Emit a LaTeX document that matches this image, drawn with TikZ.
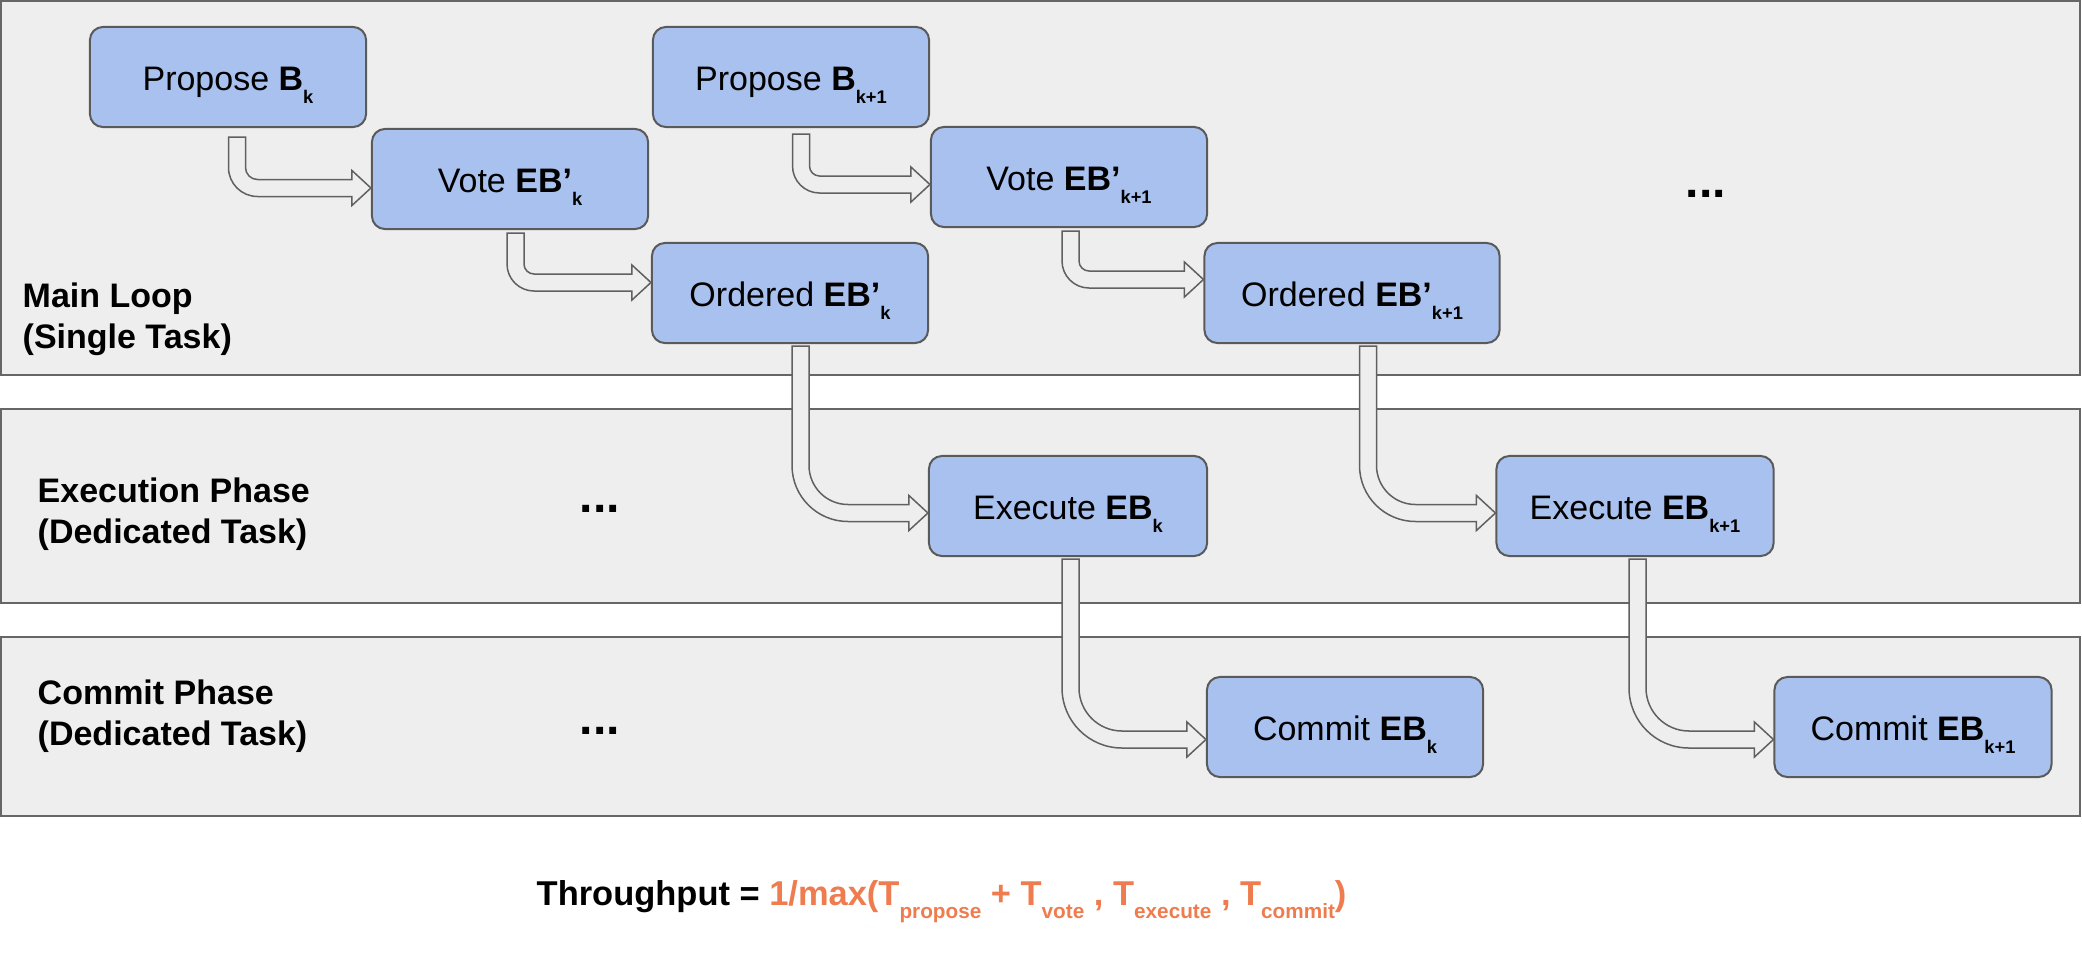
\documentclass[tikz,border=0pt]{standalone}
\usepackage{fontspec}
\setmainfont{Liberation Sans}
\usetikzlibrary{calc}
\definecolor{bandfill}{HTML}{EEEEEE}
\definecolor{bandline}{HTML}{666666}
\definecolor{boxfill}{HTML}{A8C1EE}
\definecolor{boxline}{HTML}{5A5A5A}
\definecolor{arrline}{HTML}{606060}
\definecolor{orng}{HTML}{EE7C4E}
\newcommand\sbx[1]{\raisebox{-3.9pt}{\fontsize{5.2pt}{6pt}\selectfont\bfseries #1}}
\newcommand\sbf[1]{\raisebox{-3.7pt}{\fontsize{5.9pt}{6pt}\selectfont\bfseries #1}}
\newcommand\harrow[6]{%
  \pgfmathsetmacro\Ro{#6}%
  \pgfmathsetmacro\Ri{#6-17}%
  \coordinate (hs) at ($(#1.south)+(#2,#3)$);
  \coordinate (ht) at ($(#4.west)+(0,#5)$);
  \coordinate (hc) at (hs |- ht);
  \draw[hollow] ($(hs)+(-8.5,0)$) -- ($(hc)+(-8.5,8.5-\Ro)$)
    .. controls ($(hc)+(-8.5,8.5-0.448*\Ro)$) and ($(hc)+(-8.5+0.448*\Ro,8.5)$) .. ($(hc)+(-8.5+\Ro,8.5)$)
    -- ($(ht)+(-19,8.5)$) -- ($(ht)+(-19,17.5)$) -- (ht) -- ($(ht)+(-19,-17.5)$) -- ($(ht)+(-19,-8.5)$)
    -- ($(hc)+(8.5+\Ri,-8.5)$)
    .. controls ($(hc)+(8.5+0.448*\Ri,-8.5)$) and ($(hc)+(8.5,-8.5-0.448*\Ri)$) .. ($(hc)+(8.5,-8.5-\Ri)$)
    -- ($(hs)+(8.5,0)$) -- cycle;
}
\begin{document}
\begin{tikzpicture}[x=0.01cm,y=-0.01cm,
 band/.style={fill=bandfill,draw=bandline,line width=0.02cm},
 stepbox/.style={rectangle,rounded corners=0.13cm,fill=boxfill,draw=boxline,line width=0.02cm,minimum width=2.76cm,minimum height=1cm,inner sep=0pt,text height=0.26cm,text depth=0pt,font=\fontsize{9.67pt}{11.6pt}\selectfont},
 bandlabel/.style={anchor=north west,align=left,inner sep=0pt,font=\fontsize{9.67pt}{11.6pt}\selectfont\bfseries},
 dots/.style={anchor=base,inner sep=0pt,font=\fontsize{13.7pt}{14pt}\selectfont\bfseries},
 hollow/.style={draw=arrline,line width=0.015cm,fill=bandfill,line join=miter}]
\useasboundingbox (0,0) rectangle (2082,954);
\draw[band] (1,1) rectangle (2080,375);
\draw[band] (1,409) rectangle (2080,603);
\draw[band] (1,637) rectangle (2080,816);

\node[stepbox] (pk) at (228,77) {Propose \textbf{B}\sbx{k}};
\node[stepbox] (vk) at (510,179) {Vote \textbf{EB’}\sbx{k}};
\node[stepbox] (ok) at (790,293) {Ordered \textbf{EB’}\sbx{k}};
\node[stepbox] (pk1) at (791,77) {Propose \textbf{B}\sbx{k+1}};
\node[stepbox] (vk1) at (1069,177) {Vote \textbf{EB’}\sbx{k+1}};
\node[stepbox,minimum width=2.95cm] (ok1) at (1352,293) {Ordered \textbf{EB’}\sbx{k+1}};
\node[stepbox,minimum width=2.78cm] (ek) at (1068,506) {Execute \textbf{EB}\sbx{k}};
\node[stepbox,minimum width=2.77cm] (ek1) at (1635,506) {Execute \textbf{EB}\sbx{k+1}};
\node[stepbox] (ck) at (1345,727) {Commit \textbf{EB}\sbx{k}};
\node[stepbox,minimum width=2.77cm] (ck1) at (1913,727) {Commit \textbf{EB}\sbx{k+1}};

\node[bandlabel] (lml) at (22,282) {Main Loop\\(Single Task)};
\node[bandlabel] (lex) at (37,477) {Execution Phase\\(Dedicated Task)};
\node[bandlabel] (lcm) at (37,679) {Commit Phase\\(Dedicated Task)};

\node[dots] (d1) at (1706,197) {...};
\node[dots] (d2) at (600,512) {...};
\node[dots] (d3) at (600,734) {...};

\node[anchor=base west,inner sep=0pt,font=\fontsize{9.8pt}{12pt}\selectfont\bfseries] (tp) at (536,905)
  {Throughput = \textcolor{orng}{1/max(T\sbf{propose} + T\sbf{vote} , T\sbf{execute} , T\sbf{commit})}};

\harrow{pk}{9}{9}{vk}{9}{29}
\harrow{vk}{5.5}{3}{ok}{-10.5}{27}
\harrow{pk1}{10}{6}{vk1}{7.5}{27}
\harrow{vk1}{1.5}{3}{ok1}{-13.5}{27}
\harrow{ok}{10.5}{2}{ek}{7}{56}
\harrow{ok1}{16}{2}{ek1}{7}{56}
\harrow{ek}{2.5}{2}{ck}{12.5}{60}
\harrow{ek1}{2.5}{2}{ck1}{12.5}{60}
\end{tikzpicture}
\end{document}
